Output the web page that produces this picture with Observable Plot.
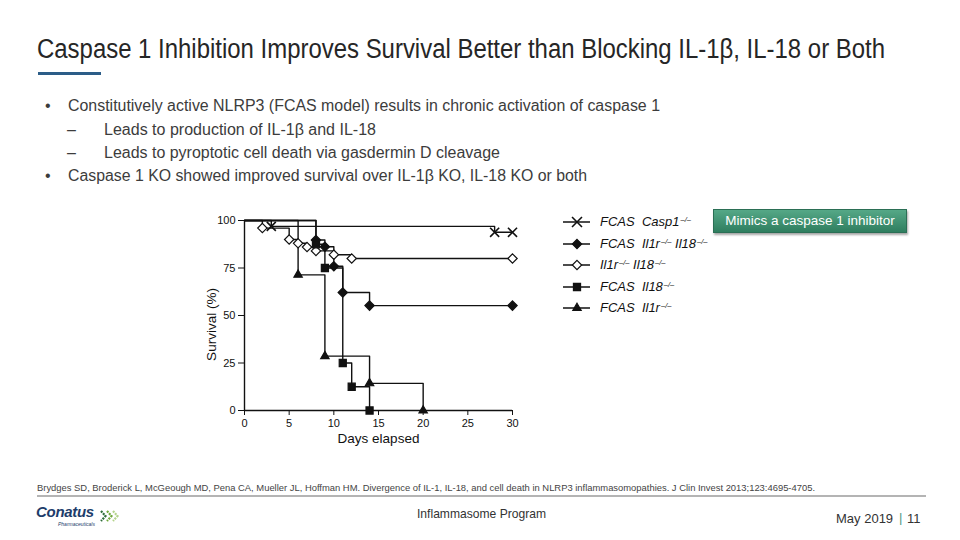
<!DOCTYPE html>
<html><head><meta charset="utf-8">
<script src="https://cdn.jsdelivr.net/npm/d3@7"></script>
<script src="https://cdn.jsdelivr.net/npm/@observablehq/plot@0.6"></script>
<style>
html,body{margin:0;padding:0;background:#fff;}
body{width:960px;height:540px;position:relative;overflow:hidden;font-family:"Liberation Sans",Arial,sans-serif;}
.abs{position:absolute;white-space:nowrap;line-height:1;}
.fit{transform-origin:0 0;}
.b{color:#3c3c3c;font-size:16px;}
#chart{position:absolute;left:180px;top:205px;}
.leg{position:absolute;left:560px;height:16px;white-space:nowrap;font-style:italic;font-size:13px;color:#111;}
.leg svg{position:absolute;left:0;top:0;}
.leg span.t{position:absolute;left:40px;top:1px;line-height:14px;}
.leg sup{font-size:7.5px;vertical-align:top;position:relative;top:-2px;margin-left:1px;}
#btn{position:absolute;left:713px;top:209px;width:194px;height:24px;box-sizing:border-box;
 background:linear-gradient(#55a887,#2f7e5f);border:1px solid #2b6f55;box-shadow:1px 2px 2px rgba(0,0,0,.35);
 color:#fff;font-size:13.5px;text-align:center;line-height:22px;}
</style></head><body>
<div class="abs fit" data-w="848" style="left:37px;top:36px;font-size:27px;color:#262626">Caspase 1 Inhibition Improves Survival Better than Blocking IL-1β, IL-18 or Both</div>
<div class="abs" style="left:38px;top:72px;width:63px;height:3px;background:#2c5d88"></div>

<div class="abs b" style="left:45px;top:97.5px">•</div>
<div class="abs b fit" data-w="592" style="left:68px;top:97.5px">Constitutively active NLRP3 (FCAS model) results in chronic activation of caspase 1</div>
<div class="abs b" style="left:67px;top:121.5px">–</div>
<div class="abs b fit" data-w="272" style="left:104px;top:121.5px">Leads to production of IL-1β and IL-18</div>
<div class="abs b" style="left:67px;top:144.5px">–</div>
<div class="abs b fit" data-w="396" style="left:104px;top:144.5px">Leads to pyroptotic cell death via gasdermin D cleavage</div>
<div class="abs b" style="left:45px;top:167.5px">•</div>
<div class="abs b fit" data-w="519" style="left:68px;top:167.5px">Caspase 1 KO showed improved survival over IL-1β KO, IL-18 KO or both</div>

<div id="chart"></div>
<div id="legend"></div>
<div id="btn">Mimics a caspase 1 inhibitor</div>

<div class="abs fit" data-w="778" style="left:37px;top:483px;font-size:9.5px;color:#444">Brydges SD, Broderick L, McGeough MD, Pena CA, Mueller JL, Hoffman HM. Divergence of IL-1, IL-18, and cell death in NLRP3 inflammasomopathies. J Clin Invest 2013;123:4695-4705.</div>
<div class="abs" style="left:37px;top:495px;width:889px;height:2px;background:#b4b4b4"></div>
<div class="abs" style="left:36px;top:504px;font-size:15px;font-weight:bold;font-style:italic;color:#1d3d6b;letter-spacing:-0.3px">Conatus</div>
<svg class="abs" style="left:100px;top:510px" width="20" height="13">
  <polyline points="1,1 5.5,6 1,11" fill="none" stroke="#2f6e3a" stroke-width="2.2" stroke-dasharray="2 1"/>
  <polyline points="7,1 11.5,6 7,11" fill="none" stroke="#6fa83a" stroke-width="2.2" stroke-dasharray="2 1"/>
  <polyline points="13,1 17.5,6 13,11" fill="none" stroke="#b5d48c" stroke-width="2.2" stroke-dasharray="2 1"/>
</svg>
<div class="abs" style="left:58px;top:522px;font-size:5px;font-style:italic;color:#1d3d6b">Pharmaceuticals</div>
<div class="abs fit" data-w="129" style="left:417px;top:507px;font-size:13px;color:#333">Inflammasome Program</div>
<div class="abs" style="left:836px;top:512px;font-size:13px;color:#333">May 2019</div>
<div class="abs" style="left:899px;top:511px;font-size:13px;color:#4f9a86">|</div>
<div class="abs" style="left:907px;top:512px;font-size:13px;color:#333">11</div>

<script>
// ---- data ----
const seriesNames = ["FCAS Casp1", "FCAS Il1r Il18", "Il1r Il18", "FCAS Il18", "FCAS Il1r"];
const legendLabels = [
  "FCAS&nbsp;&nbsp;Casp1<sup>–/–</sup>",
  "FCAS&nbsp;&nbsp;Il1r<sup>–/–</sup> Il18<sup>–/–</sup>",
  "Il1r<sup>–/–</sup> Il18<sup>–/–</sup>",
  "FCAS&nbsp;&nbsp;Il18<sup>–/–</sup>",
  "FCAS&nbsp;&nbsp;Il1r<sup>–/–</sup>"
];
const casp1Days = [0, 3, 28, 30];
const casp1Surv = [100, 96.9, 93.8, 93.8];
const dkoDays = [0, 8, 9, 10, 11, 14, 30];
const dkoSurv = [100, 89.7, 86.2, 75.9, 62.1, 55.2, 55.2];
const wtDkoDays = [0, 2, 5, 6, 7, 8, 10, 12, 30];
const wtDkoSurv = [100, 96, 90, 88, 86, 84, 82, 80, 80];
const il18Days = [0, 8, 9, 11, 12, 14];
const il18Surv = [100, 87.5, 75, 25, 12.5, 0];
const il1rDays = [0, 6, 9, 14, 20];
const il1rSurv = [100, 71.4, 28.6, 14.3, 0];
const xTicks = [0, 5, 10, 15, 20, 25, 30];
const yTicks = [0, 25, 50, 75, 100];

const symbols = ["times", "diamond2", "diamond2", "square", "triangle"];
const fills = ["none", "#111", "#fff", "#111", "#111"];
const radii = [4.2, 4.2, 4.2, 4, 3.1];

const allDays = [casp1Days, dkoDays, wtDkoDays, il18Days, il1rDays];
const allSurv = [casp1Surv, dkoSurv, wtDkoSurv, il18Surv, il1rSurv];
const rows = [];
seriesNames.forEach((s, i) => allDays[i].forEach((d, j) => rows.push({series: s, idx: i, day: d, surv: allSurv[i][j]})));

const dotMarks = seriesNames.map((s, i) => Plot.dot(rows.filter(r => r.idx === i && r.day > 0), {
  x: "day", y: "surv", symbol: () => symbols[i], r: radii[i],
  fill: fills[i], stroke: "#111", strokeWidth: symbols[i] === "times" ? 1.6 : 1.2
}));

const chart = Plot.plot({
  width: 350, height: 245,
  marginLeft: 64, marginRight: 18, marginTop: 15, marginBottom: 40,
  style: {fontFamily: "Liberation Sans, Arial, sans-serif", fontSize: "11px", color: "#111", background: "transparent", overflow: "visible"},
  x: {domain: [0, 30], ticks: xTicks, tickSize: 5, tickPadding: 4, label: null},
  y: {domain: [0, 100], ticks: yTicks, tickSize: 6, tickPadding: 3, label: null},
  marks: [
    Plot.line(rows, {x: "day", y: "surv", z: "series", curve: "step-after", stroke: "#111", strokeWidth: 1.4}),
    ...dotMarks,
    Plot.ruleX([0], {stroke: "#111", strokeWidth: 1.4}),
    Plot.ruleY([0], {stroke: "#111", strokeWidth: 1.4}),
    Plot.text(["Days elapsed"], {text: d => d, frameAnchor: "bottom", dy: 32, fontSize: 13.5}),
    Plot.text(["Survival (%)"], {text: d => d, frameAnchor: "left", textAnchor: "middle", rotate: -90, dx: -33, dy: 9, fontSize: 13.5})
  ]
});
document.getElementById("chart").appendChild(chart);

// ---- legend ----
const symMap = {times: d3.symbolTimes, diamond2: d3.symbolDiamond2, square: d3.symbolSquare, triangle: d3.symbolTriangle};
const legTops = [214, 235.5, 257, 278.5, 300];
const legend = d3.select("#legend");
seriesNames.forEach((s, i) => {
  const row = legend.append("div").attr("class", "leg").style("top", legTops[i] + "px");
  const svg = row.append("svg").attr("width", 34).attr("height", 16);
  svg.append("line").attr("x1", 3).attr("x2", 30).attr("y1", 8).attr("y2", 8).attr("stroke", "#111").attr("stroke-width", 1.5);
  svg.append("path").attr("transform", "translate(17,8)")
    .attr("d", d3.symbol(symMap[symbols[i]], Math.PI * radii[i] * radii[i] * (symbols[i] === "times" ? 1.2 : 1))())
    .attr("fill", fills[i]).attr("stroke", "#111").attr("stroke-width", symbols[i] === "times" ? 1.6 : 1.2);
  row.append("span").attr("class", "t").html(legendLabels[i]);
});

// ---- fit slide text widths ----
document.querySelectorAll(".fit").forEach(el => {
  const w = el.getBoundingClientRect().width;
  const target = +el.dataset.w;
  if (w > 0) el.style.transform = `scaleX(${target / w})`;
});
</script>
</body></html>
